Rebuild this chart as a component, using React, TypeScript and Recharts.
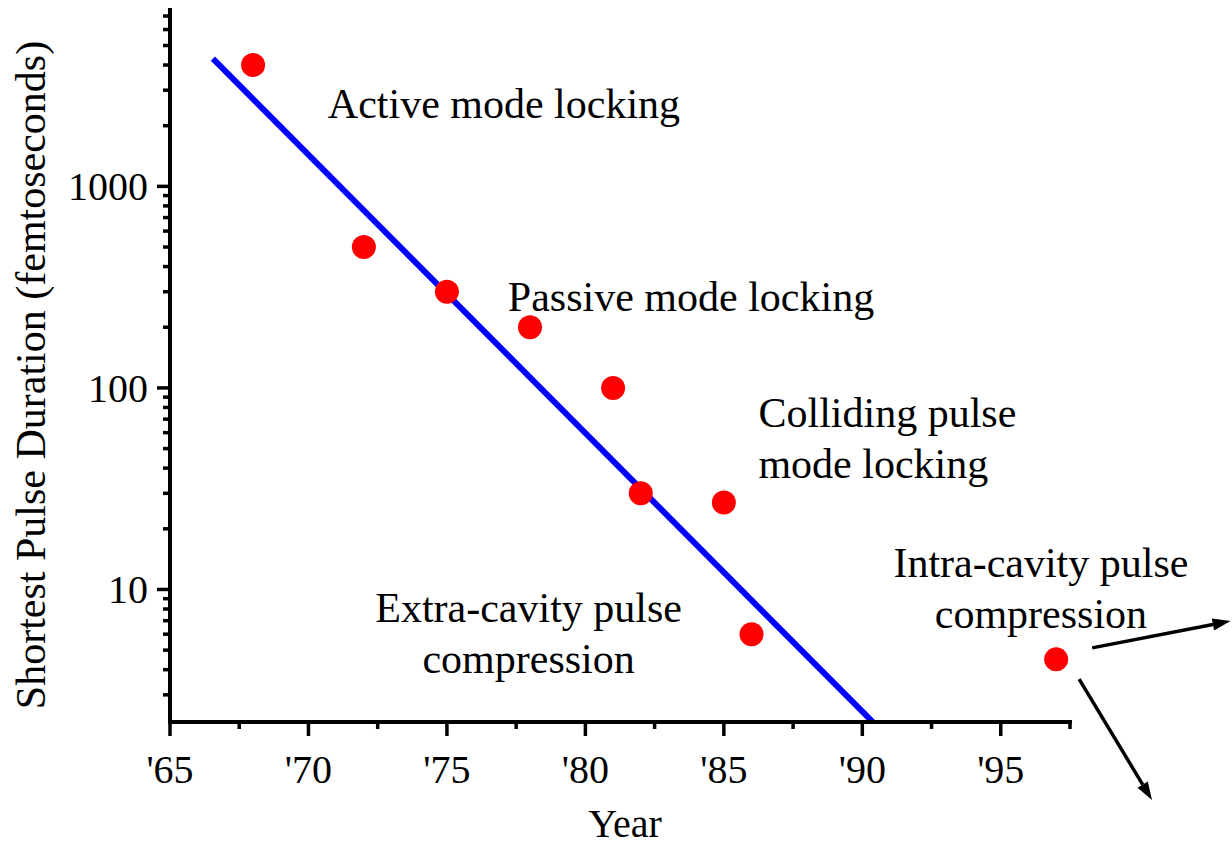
import React from 'react';
import {
  ComposedChart,
  Line,
  Scatter,
  XAxis,
  YAxis,
  ReferenceDot,
  ReferenceLine,
} from 'recharts';

const FONT = "'Liberation Serif', 'Times New Roman', Times, serif";

// shortest pulse reported each year (femtoseconds)
const recordYears = [68, 72, 75, 78, 81, 82, 85, 86, 97];
const recordDurations = [4000, 500, 300, 200, 100, 30, 27, 6, 4.5];

// straight trend line (on the log axis)
const trendYears = [66.55, 90.6];
const trendDurations = [4300, 2.05];

const majorYears = [65, 70, 75, 80, 85, 90, 95];
const minorYears = [67.5, 72.5, 77.5, 82.5, 87.5, 92.5, 97.5];
const majorDurations = [10, 100, 1000];
const minorDurations = [
  3, 4, 5, 6, 7, 8, 9,
  20, 30, 40, 50, 60, 70, 80, 90,
  200, 300, 400, 500, 600, 700, 800, 900,
  2000, 3000, 4000, 5000, 6000, 7000,
];

const annotationLines = [
  ['Active mode locking'],
  ['Passive mode locking'],
  ['Colliding pulse', 'mode locking'],
  ['Extra-cavity pulse', 'compression'],
  ['Intra-cavity pulse', 'compression'],
];
const annotationYears = [70.7, 77.2, 86.25, 77.95, 96.45];
const annotationDurations = [2180, 240, 64, 6.9, 11.5];
const annotationAnchors = ['start', 'start', 'start', 'middle', 'middle'];

// arrows leaving the last point, [year, fs] at tail and head
const arrowTails = [[98.3, 5.13], [97.83, 3.59]];
const arrowHeads = [[103.3, 6.97], [100.46, 0.903]];

const records = recordYears.map((year, i) => ({ year, fs: recordDurations[i] }));
const trend = trendYears.map((year, i) => ({ year, fs: trendDurations[i] }));
const xTicks = [...majorYears, ...minorYears].sort((a, b) => a - b);
const yTicks = [...majorDurations, ...minorDurations].sort((a, b) => a - b);

const XTick = (props: any) => {
  const { x, y, payload } = props;
  const major = majorYears.includes(payload.value);
  return (
    <g>
      <line x1={x} y1={y} x2={x} y2={y + (major ? 14 : 7)} stroke="#000" strokeWidth={3.5} />
      {major && (
        <text x={x} y={y + 61} textAnchor="middle" fontSize={40} fontFamily={FONT} fill="#000">
          {`'${payload.value}`}
        </text>
      )}
    </g>
  );
};

const YTick = (props: any) => {
  const { x, y, payload } = props;
  const major = majorDurations.includes(payload.value);
  return (
    <g>
      <line x1={x - (major ? 13 : 7)} y1={y} x2={x} y2={y} stroke="#000" strokeWidth={3.5} />
      {major && (
        <text x={x - 22} y={y} dy="0.35em" textAnchor="end" fontSize={40} fontFamily={FONT} fill="#000">
          {payload.value}
        </text>
      )}
    </g>
  );
};

const YTitle = (props: any) => {
  const vb = props.viewBox;
  const cx = vb.x + 30;
  const cy = vb.y + vb.height / 2 + 9;
  return (
    <text
      x={cx}
      y={cy}
      dy="0.35em"
      transform={`rotate(-90, ${cx}, ${cy})`}
      textAnchor="middle"
      fontSize={42}
      fontFamily={FONT}
      fill="#000"
    >
      Shortest Pulse Duration (femtoseconds)
    </text>
  );
};

const XTitle = (props: any) => {
  const vb = props.viewBox;
  return (
    <text
      x={vb.x + vb.width / 2 + 5}
      y={vb.y + vb.height - 14}
      textAnchor="middle"
      fontSize={40}
      fontFamily={FONT}
      fill="#000"
    >
      Year
    </text>
  );
};

const makeNote = (lines: string[], anchor: string) => (props: any) => (
  <text
    x={props.cx}
    y={props.cy}
    textAnchor={anchor as any}
    fontSize={42}
    fontFamily={FONT}
    fill="#000"
  >
    {lines.map((t, i) => (
      <tspan key={i} x={props.cx} dy={i === 0 ? 0 : 51}>
        {t}
      </tspan>
    ))}
  </text>
);

const Arrow = (props: any) => {
  const { x1, y1, x2, y2 } = props;
  const dx = x2 - x1;
  const dy = y2 - y1;
  const len = Math.sqrt(dx * dx + dy * dy);
  const ux = dx / len;
  const uy = dy / len;
  const head = 18;
  const half = 6;
  const bx = x2 - ux * head;
  const by = y2 - uy * head;
  return (
    <g>
      <line x1={x1} y1={y1} x2={bx} y2={by} stroke="#000" strokeWidth={3.5} />
      <polygon
        points={`${x2},${y2} ${bx - uy * half},${by + ux * half} ${bx + uy * half},${by - ux * half}`}
        fill="#000"
      />
    </g>
  );
};

export default function App() {
  return (
    <div style={{ position: 'absolute', left: 0, top: 0, background: '#fff' }}>
      <ComposedChart
        width={1232}
        height={851}
        margin={{ top: 10, right: 162, bottom: 0, left: 0 }}
      >
        <XAxis
          type="number"
          dataKey="year"
          domain={[65, 97.5]}
          allowDataOverflow
          ticks={xTicks}
          interval={0}
          tick={<XTick />}
          tickLine={false}
          tickSize={0}
          tickMargin={0}
          height={129}
          axisLine={{ stroke: '#000', strokeWidth: 4, strokeLinecap: 'square' }}
          label={XTitle}
        />
        <YAxis
          type="number"
          scale="log"
          domain={[2.2, 7500]}
          allowDataOverflow
          ticks={yTicks}
          interval={0}
          tick={<YTick />}
          tickLine={false}
          tickSize={0}
          tickMargin={0}
          width={170}
          axisLine={{ stroke: '#000', strokeWidth: 4, strokeLinecap: 'square' }}
          label={YTitle}
        />

        <Line
          data={trend}
          dataKey="fs"
          type="linear"
          stroke="#0000ff"
          strokeWidth={6}
          dot={false}
          activeDot={false}
          isAnimationActive={false}
        />

        <Scatter
          data={records}
          dataKey="fs"
          isAnimationActive={false}
          shape={(p: any) => <circle cx={p.cx} cy={p.cy} r={12} fill="#ff0000" />}
        />

        {annotationLines.map((lines, i) => (
          <ReferenceDot
            key={`note-${i}`}
            x={annotationYears[i]}
            y={annotationDurations[i]}
            r={0}
            ifOverflow="visible"
            shape={makeNote(lines, annotationAnchors[i])}
          />
        ))}

        {arrowTails.map((tail, i) => (
          <ReferenceLine
            key={`arrow-${i}`}
            segment={[
              { x: tail[0], y: tail[1] },
              { x: arrowHeads[i][0], y: arrowHeads[i][1] },
            ]}
            ifOverflow="visible"
            shape={Arrow}
          />
        ))}
      </ComposedChart>
    </div>
  );
}
